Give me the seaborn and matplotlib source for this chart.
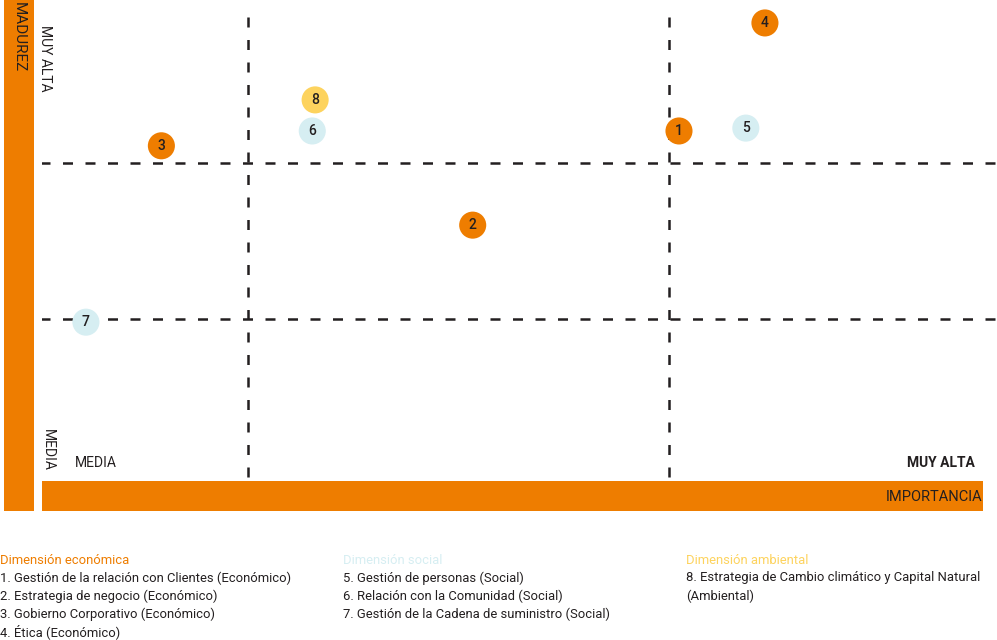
import pandas as pd
import matplotlib.pyplot as plt
import seaborn as sns
from matplotlib.patches import Rectangle

# data (importance / maturity on a 0-100 scale)
temas = ["1", "2", "3", "4", "5", "6", "7", "8"]
importancia = [66.7, 45.1, 12.5, 75.7, 73.7, 28.3, 4.6, 28.6]
madurez = [72.6, 52.9, 69.5, 95.2, 73.2, 72.6, 32.6, 79.1]
dimension = ["Económica", "Económica", "Económica", "Económica",
             "Social", "Social", "Social", "Ambiental"]

cortes_x = [21.6, 65.7]
cortes_y = [65.9, 33.3]

leyenda_titulos = ["Dimensión económica", "Dimensión social", "Dimensión ambiental"]
leyenda_textos = [
    ["1. Gestión de la relación con Clientes (Económico)",
     "2. Estrategia de negocio (Económico)",
     "3. Gobierno Corporativo (Económico)",
     "4. Ética (Económico)"],
    ["5. Gestión de personas (Social)",
     "6. Relación con la Comunidad (Social)",
     "7. Gestión de la Cadena de suministro (Social)"],
    ["8. Estrategia de Cambio climático y Capital Natural",
     "(Ambiental)"],
]

NARANJA = "#EE7D00"
AZUL = "#D6EEF2"
AMARILLO = "#FDD35E"
TEXTO = "#231F20"
colores = {"Económica": NARANJA, "Social": AZUL, "Ambiental": AMARILLO}

df = pd.DataFrame({"Tema": temas, "Importancia": importancia,
                   "Madurez": madurez, "Dimension": dimension})

sns.set_style("white")
plt.rcParams["font.family"] = ["Roboto", "DejaVu Sans"]

W, H = 997, 640
fig = plt.figure(figsize=(W / 100, H / 100), dpi=100)


def fx(px):
    return px / W


def fy(py):
    return 1 - py / H


ax = fig.add_axes([fx(42), fy(478), fx(997 - 42), 478 / H])
ax.set_xlim(0, 100)
ax.set_ylim(0, 100)

for v in cortes_x:
    ax.plot([v, v], [0.3, 97], color=TEXTO, lw=1.8, dashes=(4, 5), zorder=1)
for h in cortes_y:
    ax.plot([-0.2, 100], [h, h], color=TEXTO, lw=1.8, dashes=(4, 5), zorder=1)

sns.scatterplot(data=df, x="Importancia", y="Madurez", hue="Dimension",
                palette=colores, s=380, edgecolor="none", legend=False,
                zorder=3, ax=ax)
for _, r in df.iterrows():
    ax.text(r["Importancia"], r["Madurez"], r["Tema"], ha="center",
            va="center", fontsize=10, fontweight="medium", color=TEXTO, zorder=4)

ax.set_axis_off()

# orange axis bars
fig.add_artist(Rectangle((fx(4), fy(511)), fx(30), 511 / H,
                         transform=fig.transFigure, color=NARANJA, lw=0))
fig.add_artist(Rectangle((fx(42), fy(511)), fx(941), 30 / H,
                         transform=fig.transFigure, color=NARANJA, lw=0))

fig.text(fx(19), fy(2), "MADUREZ", rotation=270, ha="center", va="top",
         fontsize=11, color=TEXTO)
fig.text(fx(45), fy(25), "MUY ALTA", rotation=270, ha="center", va="top",
         fontsize=10, color=TEXTO)
fig.text(fx(48), fy(429), "MEDIA", rotation=270, ha="center", va="top",
         fontsize=10, color=TEXTO)
fig.text(fx(75), fy(463), "MEDIA", ha="left", va="center",
         fontsize=10, color=TEXTO)
fig.text(fx(975), fy(463), "MUY ALTA", ha="right", va="center",
         fontsize=10, fontweight="bold", color=TEXTO)
fig.text(fx(982), fy(497), "IMPORTANCIA", ha="right", va="center",
         fontsize=10.5, color=TEXTO)

# legend in three columns
col_x = [0, 343, 686]
col_colores = [NARANJA, AZUL, AMARILLO]
for cx, titulo, c, lineas in zip(col_x, leyenda_titulos, col_colores, leyenda_textos):
    fig.text(fx(cx), fy(560), titulo, ha="left", va="center",
             fontsize=9.4, color=c)
    for i, linea in enumerate(lineas):
        fig.text(fx(cx), fy(578 + 18 * i), linea, ha="left", va="center",
                 fontsize=9.4, color=TEXTO)

fig.savefig("out.png", dpi=100)
